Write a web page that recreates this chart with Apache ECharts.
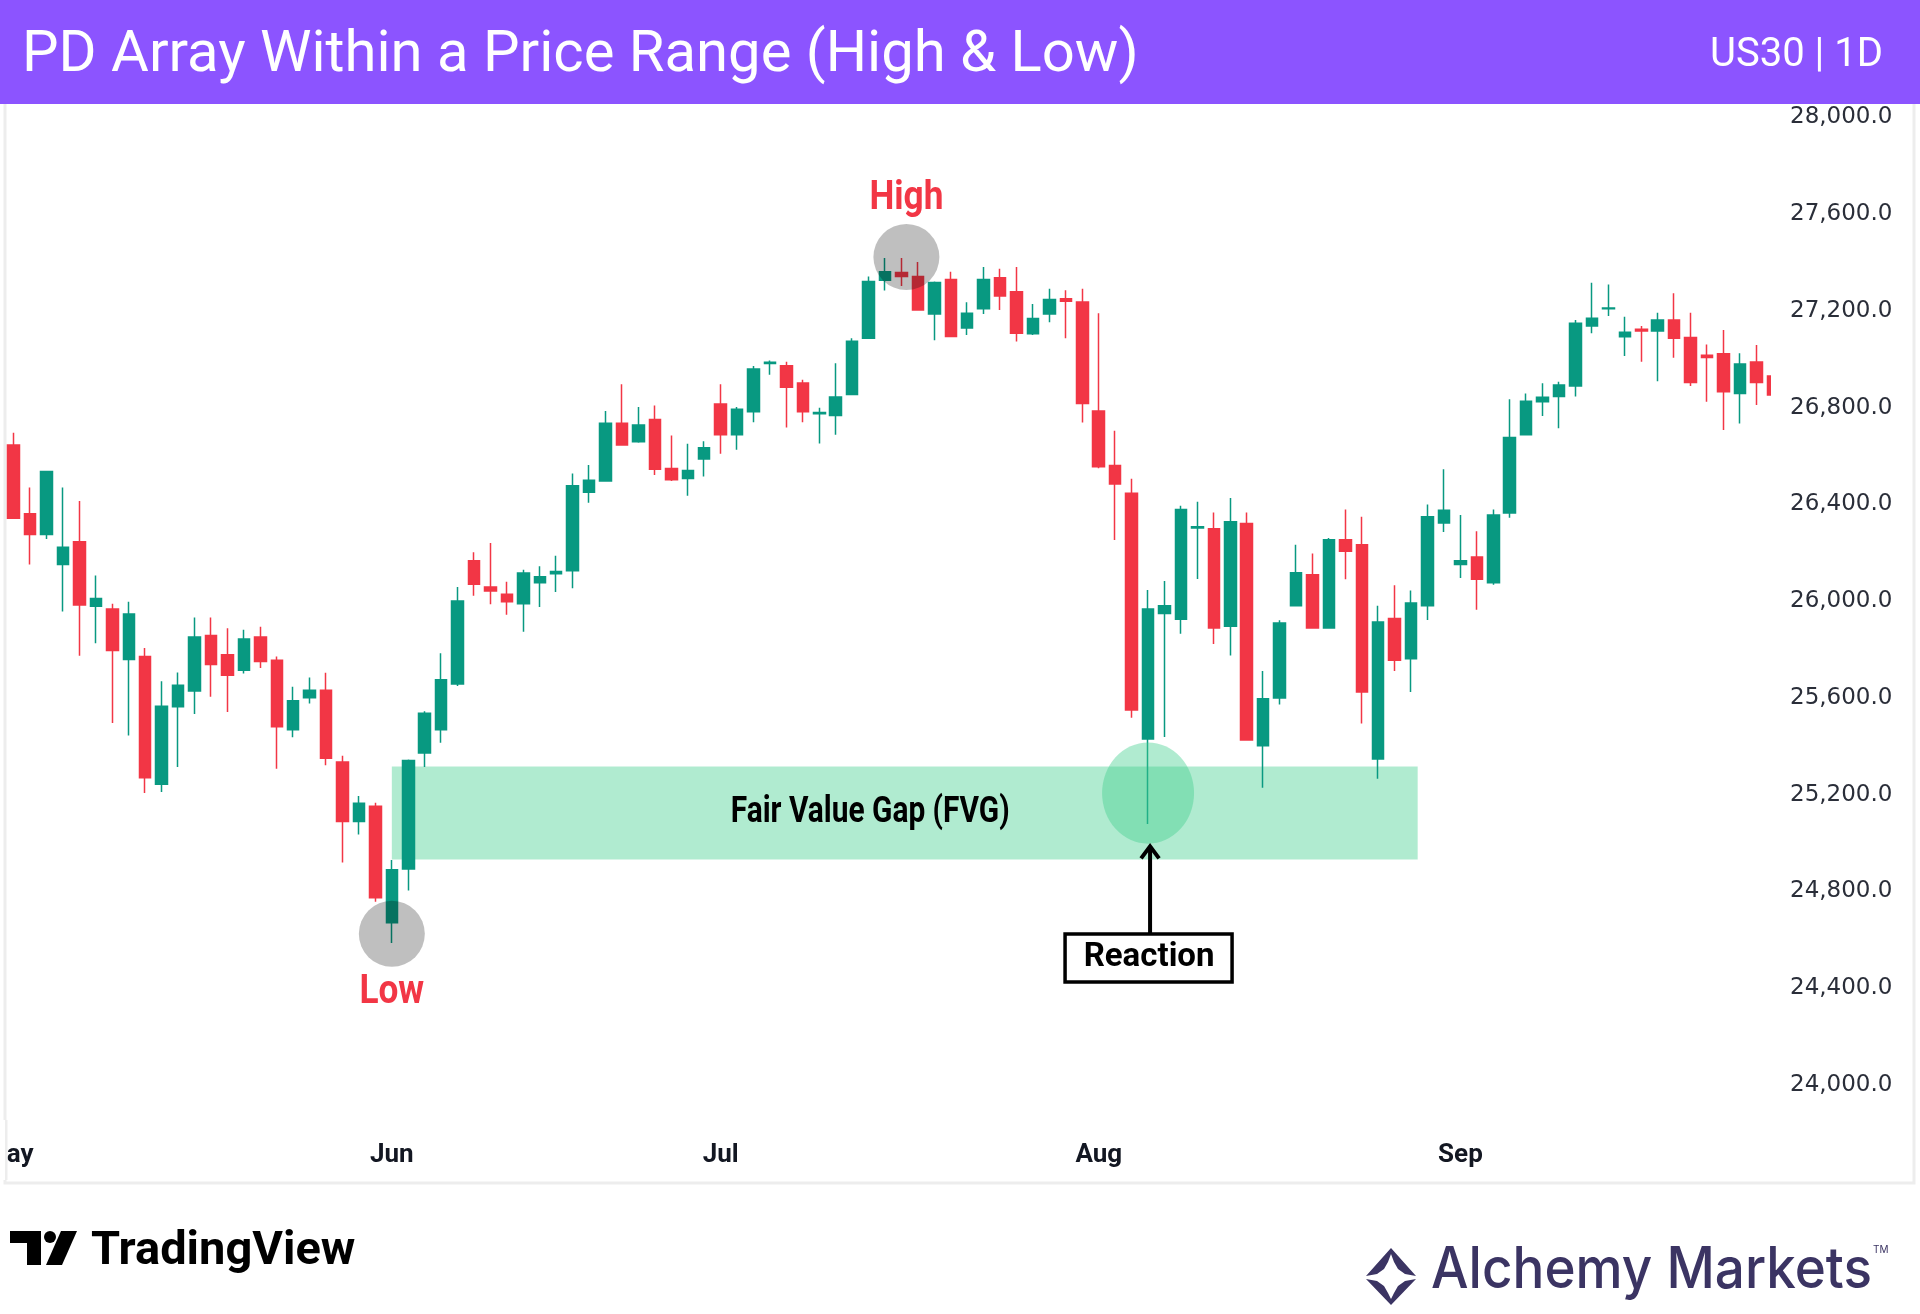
<!DOCTYPE html>
<html>
<head>
<meta charset="utf-8">
<title>PD Array Within a Price Range (High &amp; Low)</title>
<script src="https://cdn.jsdelivr.net/npm/echarts@6/dist/echarts.min.js"></script>
<style>
    html, body { margin: 0; padding: 0; background: #fff; }
    #chart { width: 1920px; height: 1314px; }
</style>
</head>
<body>
<div id="chart"></div>
<script>
// US30 daily candles
var opens = [26646,26362,26276,26152,26246,25979,25968,25759,25772,25243,25564,25629,25858,25779,25715,25852,25756,25469,25601,25632,
             25335,25089,25152,24671,24893,25373,25469,25658,26167,26059,26029,25990,26076,26114,26126,26451,26497,26736,26659,26751,
             26549,26508,26588,26816,26688,26783,26983,26974,26902,26775,26768,26855,27087,27327,27359,27343,27188,27330,27130,27209,
             27337,27280,27106,27188,27251,27237,26787,26561,26446,25431,25949,25926,26303,26300,25897,26321,25403,25600,25981,26110,
             25889,26254,26234,25348,25929,25762,25981,26324,26152,26183,26076,26365,26688,26825,26846,26890,27138,27209,27094,27125,
             27117,27163,27090,27017,27023,26859,26989,26931];
var closes = [26343,26276,26536,26223,25985,26011,25796,25947,25270,25566,25653,25852,25739,25694,25844,25751,25481,25589,25632,25351,
              25089,25165,24774,24890,25342,25537,25675,26001,26070,26042,25998,26117,26101,26123,26478,26500,26736,26646,26729,26546,
              26502,26541,26635,26688,26794,26960,26988,26885,26783,26780,26844,27075,27322,27362,27343,27204,27318,27095,27191,27330,
              27262,27108,27169,27248,27240,26818,26556,26485,25550,25968,25981,26379,26308,25889,26329,25426,25597,25910,26118,25889,
              26254,26207,25625,25914,25756,25993,26349,26376,26167,26091,26357,26677,26827,26843,26894,27149,27170,27212,27112,27117,
              27163,27087,26904,27008,26866,26981,26904,26853];
var lows = [26343,26152,26257,25958,25775,25826,25497,25445,25207,25211,25315,25534,25605,25542,25701,25724,25307,25438,25577,25322,
            24920,25036,24758,24587,24804,25315,25415,25650,26023,25988,25944,25874,25976,26038,26054,26407,26494,26646,26655,26522,
            26497,26436,26516,26610,26626,26740,26936,26718,26740,26652,26688,26855,27087,27285,27303,27204,27079,27095,27101,27188,
            27204,27074,27101,27153,27087,26739,26550,26253,25518,25079,25439,25866,26092,25823,25776,25426,25229,25573,25981,25889,
            25889,26091,25495,25266,25712,25625,25922,26286,26096,25965,26068,26345,26688,26766,26715,26846,27108,27179,27014,26990,
            26910,27007,26890,26825,26708,26735,26811,26850];
var highs = [26697,26470,26536,26470,26414,26106,25990,25998,25807,25669,25705,25933,25933,25888,25882,25895,25772,25647,25685,25704,
             25361,25195,25167,24930,25346,25545,25785,26059,26203,26241,26081,26130,26145,26188,26528,26563,26787,26897,26803,26809,
             26685,26651,26662,26897,26803,26973,26995,26990,26916,26800,26984,27087,27343,27419,27419,27403,27322,27362,27236,27382,
             27375,27382,27229,27292,27286,27292,27191,26705,26506,26047,26084,26395,26411,26367,26427,26367,25712,25921,26234,26197,
             26262,26379,26349,25981,26066,26044,26400,26546,26357,26289,26379,26835,26859,26901,26908,27163,27317,27310,27176,27138,
             27193,27273,27193,27062,27121,27025,27059,26935];

// month labels sit on these bars
var monthTickIndex = [0, 23, 43, 66, 88];
var monthTickLabel = ['May', 'Jun', 'Jul', 'Aug', 'Sep'];

// price scale
var priceMin = 23600;
var priceMax = 28400;
var priceStep = 400;

// fair value gap: bar range and price range
var fvgBars = [23, 85.4];
var fvgPrices = [24932, 25317];

var days = opens.map(function (v, i) { return String(i); });
var ohlc = opens.map(function (v, i) { return [opens[i], closes[i], lows[i], highs[i]]; });

var GREEN = '#089981';
var RED = '#f23645';

var myChart = echarts.init(document.getElementById('chart'));
var option = {
    animation: false,
    grid: { left: 5.5, right: 139, top: 20.75, height: 1161, outerBoundsMode: 'none', containLabel: false },
    xAxis: {
        type: 'category',
        data: days,
        offset: -45,
        axisLine: { show: false },
        axisTick: { show: false },
        splitLine: { show: false },
        axisLabel: {
            interval: function (i) { return monthTickIndex.indexOf(i) >= 0; },
            formatter: function (v, i) {
                var k = monthTickIndex.indexOf(i);
                if (k < 0) return '';
                // first month is cut by the panel edge, sits a bit further left
                return k === 0 ? '{edge|' + monthTickLabel[k] + '}' : monthTickLabel[k];
            },
            rich: {
                edge: { padding: [0, 10, 0, 0], color: '#131722', fontFamily: 'Roboto', fontWeight: 'bold', fontSize: 26 }
            },
            margin: 6,
            color: '#131722',
            fontFamily: 'Roboto',
            fontWeight: 'bold',
            fontSize: 26
        }
    },
    yAxis: {
        type: 'value',
        position: 'right',
        min: priceMin,
        max: priceMax,
        interval: priceStep,
        scale: true,
        axisLine: { show: false },
        axisTick: { show: false },
        splitLine: { show: false },
        axisLabel: {
            margin: 9,
            color: '#2a2e39',
            fontFamily: 'DejaVu Sans',
            fontSize: 23,
            showMinLabel: true,
            showMaxLabel: true,
            formatter: function (v) {
                if (v < 24000 || v > 28000) return '';
                return v.toLocaleString('en-US', { minimumFractionDigits: 1, maximumFractionDigits: 1 });
            }
        }
    },
    series: [{
        type: 'candlestick',
        data: ohlc,
        barWidth: 12,
        itemStyle: {
            color: GREEN,
            color0: RED,
            borderColor: GREEN,
            borderColor0: RED,
            borderWidth: 1.5
        }
    }]
};
myChart.setOption(option);

// annotations placed through the chart's own scales;
// the category axis snaps to whole bars, so blend between neighbours for fractions
function px(f, p) {
    var i = Math.floor(f), t = f - i;
    var a = myChart.convertToPixel({ gridIndex: 0 }, [i, p]);
    if (t === 0) return a;
    var b = myChart.convertToPixel({ gridIndex: 0 }, [i + 1, p]);
    return [a[0] + (b[0] - a[0]) * t, a[1]];
}

var fvgA = px(fvgBars[0], fvgPrices[1]);
var fvgB = px(fvgBars[1], fvgPrices[0]);
var highC = px(54.3, 27423);
var highT = px(54.3, 27661);
var lowC = px(23, 24625);
var lowT = px(23, 24380);
var reactC = px(69, 25207);
var fvgT = px(52.1, 25125);
var arrowTop = px(69, 24995);
var boxMid = px(69, 24525);

function txt(x, y, s, size, color, weight, align, family, sx) {
    return {
        type: 'text', x: x, y: y, z: 120, scaleX: sx || 1,
        style: {
            text: s, fill: color, fontSize: size, fontWeight: weight || 'normal',
            fontFamily: family || 'Roboto',
            align: align || 'center', textAlign: align || 'center',
            verticalAlign: 'middle', textVerticalAlign: 'middle'
        }
    };
}

var zoneFill = 'rgba(67,207,143,0.42)';
var shade = 'rgba(0,0,0,0.25)';
var navy = '#3b3463';

myChart.setOption({
    graphic: [
        // chart panel border
        { type: 'rect', z: 1, shape: { x: 5, y: 98, width: 1909, height: 1085 },
          style: { fill: 'none', stroke: '#ededed', lineWidth: 3 } },
        // clip the month label at the panel's left edge
        { type: 'rect', z: 150, shape: { x: 0, y: 1120, width: 6.5, height: 60 }, style: { fill: '#fff' } },
        { type: 'rect', z: 151, shape: { x: 5, y: 1120, width: 2.5, height: 60 }, style: { fill: '#ededed' } },
        // FVG zone behind candles
        { type: 'rect', z: 1, shape: { x: fvgA[0], y: fvgA[1], width: fvgB[0] - fvgA[0], height: fvgB[1] - fvgA[1] },
          style: { fill: zoneFill } },
        // cut the last bar at the price scale edge
        { type: 'rect', z: 60, shape: { x: 1771, y: 104, width: 11, height: 1030 }, style: { fill: '#fff' } },
        // circles
        { type: 'circle', z: 100, shape: { cx: highC[0], cy: highC[1], r: 33 }, style: { fill: shade } },
        { type: 'circle', z: 100, shape: { cx: lowC[0], cy: lowC[1], r: 33 }, style: { fill: shade } },
        { type: 'circle', z: 100, x: reactC[0], y: reactC[1], scaleY: 1.1, shape: { cx: 0, cy: 0, r: 46 }, style: { fill: zoneFill } },
        txt(highT[0], highT[1], 'High', 40, RED, 'bold', 'center', 'Roboto', 0.88),
        txt(lowT[0], lowT[1], 'Low', 40, RED, 'bold', 'center', 'Roboto', 0.88),
        txt(fvgT[0], fvgT[1], 'Fair Value Gap (FVG)', 36, '#000', 'bold', 'center', 'Roboto', 0.83),
        // arrow to the reaction
        { type: 'line', z: 110, shape: { x1: reactC[0] + 2, y1: boxMid[1] - 24, x2: reactC[0] + 2, y2: arrowTop[1] + 2 },
          style: { stroke: '#000', lineWidth: 4 } },
        { type: 'polyline', z: 110, shape: { points: [[reactC[0] - 7, arrowTop[1] + 14], [reactC[0] + 2, arrowTop[1] + 2], [reactC[0] + 11, arrowTop[1] + 14]] },
          style: { stroke: '#000', lineWidth: 4, fill: 'none' } },
        { type: 'rect', z: 110, shape: { x: boxMid[0] - 83, y: boxMid[1] - 24, width: 167, height: 48 },
          style: { fill: '#fff', stroke: '#000', lineWidth: 3.5 } },
        txt(boxMid[0] + 1, boxMid[1], 'Reaction', 33, '#000', 'bold'),

        // header
        { type: 'rect', z: 200, shape: { x: 0, y: 0, width: 1920, height: 104 }, style: { fill: '#8c54ff' } },
        { type: 'text', z: 210, x: 22, y: 85,
          style: { text: 'PD Array Within a Price Range (High & Low)', fill: '#fff', fontSize: 58, fontFamily: 'Roboto',
                   align: 'left', textAlign: 'left', verticalAlign: 'bottom', textVerticalAlign: 'bottom' } },
        { type: 'text', z: 210, x: 1883, y: 76,
          style: { text: 'US30 | 1D', fill: '#fff', fontSize: 40, fontFamily: 'Roboto',
                   align: 'right', textAlign: 'right', verticalAlign: 'bottom', textVerticalAlign: 'bottom' } },

        // TradingView mark
        { type: 'rect', z: 10, shape: { x: 10, y: 1231, width: 31, height: 12 }, style: { fill: '#000' } },
        { type: 'rect', z: 10, shape: { x: 27, y: 1231, width: 14, height: 34 }, style: { fill: '#000' } },
        { type: 'circle', z: 10, shape: { cx: 50, cy: 1237, r: 6 }, style: { fill: '#000' } },
        { type: 'polygon', z: 10, shape: { points: [[61, 1231], [77, 1231], [62, 1265], [46, 1265]] }, style: { fill: '#000' } },
        { type: 'text', z: 10, x: 91, y: 1252,
          style: { text: 'TradingView', fill: '#000', fontSize: 47, fontWeight: 'bold', fontFamily: 'Roboto',
                   align: 'left', textAlign: 'left', verticalAlign: 'middle', textVerticalAlign: 'middle' } },

        // Alchemy Markets mark
        { type: 'polygon', z: 10, shape: { points: [[1391, 1248], [1416, 1276], [1405, 1274], [1398, 1269], [1394, 1262], [1391, 1254],
                                                    [1388, 1262], [1384, 1269], [1377, 1274], [1366, 1276]] }, style: { fill: navy } },
        { type: 'polygon', z: 10, shape: { points: [[1391, 1305], [1416, 1279], [1405, 1281], [1398, 1286], [1394, 1293], [1391, 1299],
                                                    [1388, 1293], [1384, 1286], [1377, 1281], [1366, 1279]] }, style: { fill: navy } },
        { type: 'text', z: 10, x: 1431, y: 1299, scaleX: 0.93,
          style: { text: 'Alchemy Markets', fill: navy, fontSize: 57, fontWeight: 500, fontFamily: 'Inter',
                   align: 'left', textAlign: 'left', verticalAlign: 'bottom', textVerticalAlign: 'bottom' } },
        { type: 'text', z: 10, x: 1873, y: 1250,
          style: { text: 'TM', fill: navy, fontSize: 10, fontFamily: 'Inter',
                   align: 'left', textAlign: 'left', verticalAlign: 'middle', textVerticalAlign: 'middle' } }
    ]
});
</script>
</body>
</html>
